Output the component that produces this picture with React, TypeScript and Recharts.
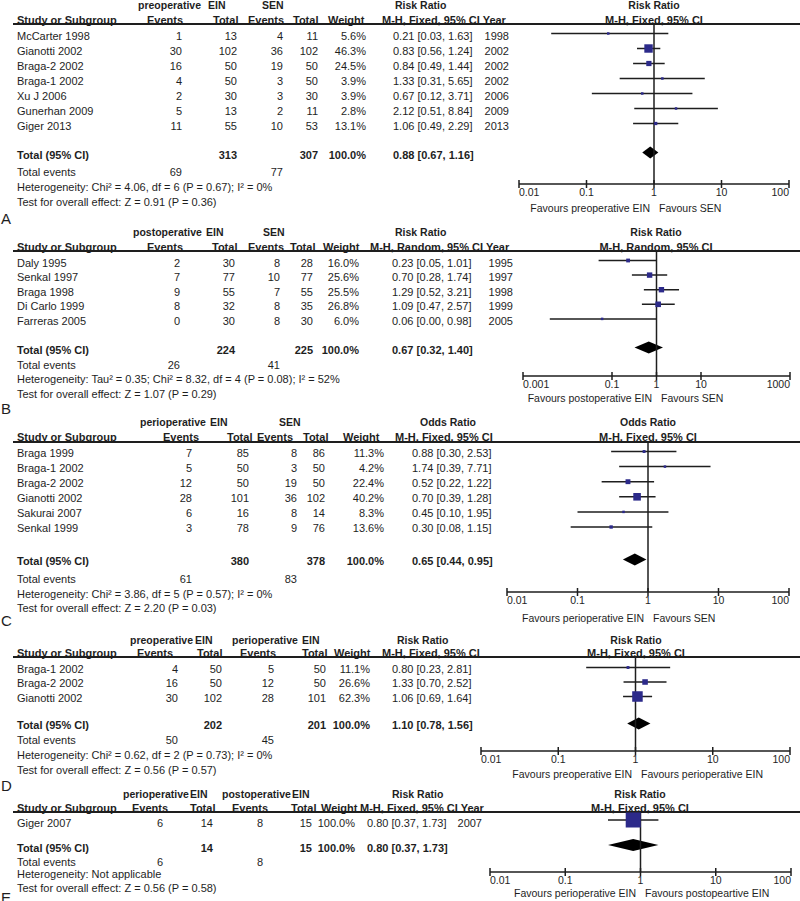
import React from "react";
import { ScatterChart, Scatter, XAxis, YAxis, ReferenceLine, ReferenceArea } from "recharts";

const FONT = '"Liberation Sans", Arial, Helvetica, sans-serif';
const INK = "#1e1e1e";
const BOX = "#2c2a8a";

type Study = { study: string; e1: number; n1: number; e2: number; n2: number; w: number; est: number; lo: number; hi: number; year?: number };
type Pooled = { est: number; lo: number; hi: number };

// A: preoperative EIN vs SEN
const rowsA: Study[] = [
  { study: "McCarter 1998", e1: 1, n1: 13, e2: 4, n2: 11, w: 5.6, est: 0.21, lo: 0.03, hi: 1.63, year: 1998 },
  { study: "Gianotti 2002", e1: 30, n1: 102, e2: 36, n2: 102, w: 46.3, est: 0.83, lo: 0.56, hi: 1.24, year: 2002 },
  { study: "Braga-2 2002", e1: 16, n1: 50, e2: 19, n2: 50, w: 24.5, est: 0.84, lo: 0.49, hi: 1.44, year: 2002 },
  { study: "Braga-1 2002", e1: 4, n1: 50, e2: 3, n2: 50, w: 3.9, est: 1.33, lo: 0.31, hi: 5.65, year: 2002 },
  { study: "Xu J 2006", e1: 2, n1: 30, e2: 3, n2: 30, w: 3.9, est: 0.67, lo: 0.12, hi: 3.71, year: 2006 },
  { study: "Gunerhan 2009", e1: 5, n1: 13, e2: 2, n2: 11, w: 2.8, est: 2.12, lo: 0.51, hi: 8.84, year: 2009 },
  { study: "Giger 2013", e1: 11, n1: 55, e2: 10, n2: 53, w: 13.1, est: 1.06, lo: 0.49, hi: 2.29, year: 2013 },
];
const pooledA: Pooled = { est: 0.88, lo: 0.67, hi: 1.16 };

// B: postoperative EIN vs SEN (random effects)
const rowsB: Study[] = [
  { study: "Daly 1995", e1: 2, n1: 30, e2: 8, n2: 28, w: 16.0, est: 0.23, lo: 0.05, hi: 1.01, year: 1995 },
  { study: "Senkal 1997", e1: 7, n1: 77, e2: 10, n2: 77, w: 25.6, est: 0.7, lo: 0.28, hi: 1.74, year: 1997 },
  { study: "Braga 1998", e1: 9, n1: 55, e2: 7, n2: 55, w: 25.5, est: 1.29, lo: 0.52, hi: 3.21, year: 1998 },
  { study: "Di Carlo 1999", e1: 8, n1: 32, e2: 8, n2: 35, w: 26.8, est: 1.09, lo: 0.47, hi: 2.57, year: 1999 },
  { study: "Farreras 2005", e1: 0, n1: 30, e2: 8, n2: 30, w: 6.0, est: 0.06, lo: 0.004, hi: 0.98, year: 2005 },
];
const pooledB: Pooled = { est: 0.67, lo: 0.32, hi: 1.4 };

// C: perioperative EIN vs SEN (odds ratio)
const rowsC: Study[] = [
  { study: "Braga 1999", e1: 7, n1: 85, e2: 8, n2: 86, w: 11.3, est: 0.88, lo: 0.3, hi: 2.53 },
  { study: "Braga-1 2002", e1: 5, n1: 50, e2: 3, n2: 50, w: 4.2, est: 1.74, lo: 0.39, hi: 7.71 },
  { study: "Braga-2 2002", e1: 12, n1: 50, e2: 19, n2: 50, w: 22.4, est: 0.52, lo: 0.22, hi: 1.22 },
  { study: "Gianotti 2002", e1: 28, n1: 101, e2: 36, n2: 102, w: 40.2, est: 0.7, lo: 0.39, hi: 1.28 },
  { study: "Sakurai 2007", e1: 6, n1: 16, e2: 8, n2: 14, w: 8.3, est: 0.45, lo: 0.1, hi: 1.95 },
  { study: "Senkal 1999", e1: 3, n1: 78, e2: 9, n2: 76, w: 13.6, est: 0.3, lo: 0.08, hi: 1.15 },
];
const pooledC: Pooled = { est: 0.65, lo: 0.44, hi: 0.95 };

// D: preoperative vs perioperative EIN
const rowsD: Study[] = [
  { study: "Braga-1 2002", e1: 4, n1: 50, e2: 5, n2: 50, w: 11.1, est: 0.8, lo: 0.23, hi: 2.81 },
  { study: "Braga-2 2002", e1: 16, n1: 50, e2: 12, n2: 50, w: 26.6, est: 1.33, lo: 0.7, hi: 2.52 },
  { study: "Gianotti 2002", e1: 30, n1: 102, e2: 28, n2: 101, w: 62.3, est: 1.06, lo: 0.69, hi: 1.64 },
];
const pooledD: Pooled = { est: 1.1, lo: 0.78, hi: 1.56 };

// E: perioperative vs postoperative EIN
const rowsE: Study[] = [
  { study: "Giger 2007", e1: 6, n1: 14, e2: 8, n2: 15, w: 100.0, est: 0.8, lo: 0.37, hi: 1.73, year: 2007 },
];
const pooledE: Pooled = { est: 0.8, lo: 0.37, hi: 1.73 };

const ticksDecades = [0.01, 0.1, 1, 10, 100];
const ticksWide = [0.001, 0.1, 1, 10, 1000];

type Layout = {
  h1: number; h2: number; line: number; rowTop: number; rowStep: number; shift: number;
  totalY: number; teY: number; hetY: number; testY: number;
  cols: { ev1: number; n1: number; ev2: number; n2: number; w: number; ci: number; year?: number };
  head1: [string, number][];
  head2: [string, number][];
  axis: { left: number; right: number; y: number; domain: [number, number]; ticks: number[]; one: number };
  title: [string, string];
  favours: [string, string];
  favY: number;
  het: string;
  test: string;
};

const layoutA: Layout = {
  h1: 5, h2: 20, line: 24, rowTop: 36, rowStep: 15, shift: -2.5, totalY: 155, teY: 172, hetY: 187, testY: 202,
  cols: { ev1: 182, n1: 237, ev2: 283, n2: 318, w: 366, ci: 393, year: 509 },
  head1: [["preoperative", 138], ["EIN", 208], ["SEN", 262], ["Risk Ratio", 395]],
  head2: [["Study or Subgroup", 17], ["Events", 147], ["Total", 213], ["Events", 248], ["Total", 293], ["Weight", 328], ["M-H, Fixed, 95% CI Year", 382]],
  axis: { left: 519, right: 789, y: 184, domain: [0.01, 100], ticks: ticksDecades, one: 654 },
  title: ["Risk Ratio", "M-H, Fixed, 95% CI"],
  favours: ["Favours preoperative EIN", "Favours SEN"], favY: 208,
  het: "Heterogeneity: Chi² = 4.06, df = 6 (P = 0.67); I² = 0%",
  test: "Test for overall effect: Z = 0.91 (P = 0.36)",
};

const layoutB: Layout = {
  h1: 232, h2: 247, line: 251, rowTop: 263, rowStep: 14.6, shift: -2.5, totalY: 350, teY: 365, hetY: 379, testY: 394,
  cols: { ev1: 180, n1: 235, ev2: 280, n2: 313, w: 359, ci: 392, year: 513 },
  head1: [["postoperative", 133], ["EIN", 206], ["SEN", 263], ["Risk Ratio", 395]],
  head2: [["Study or Subgroup", 17], ["Events", 147], ["Total", 212], ["Events", 248], ["Total", 290], ["Weight", 323], ["M-H, Random, 95% CI Year", 370]],
  axis: { left: 523, right: 790, y: 376, domain: [0.001, 1000], ticks: ticksWide, one: 656 },
  title: ["Risk Ratio", "M-H, Random, 95% CI"],
  favours: ["Favours postoperative EIN", "Favours SEN"], favY: 398,
  het: "Heterogeneity: Tau² = 0.35; Chi² = 8.32, df = 4 (P = 0.08); I² = 52%",
  test: "Test for overall effect: Z = 1.07 (P = 0.29)",
};

const layoutC: Layout = {
  h1: 422, h2: 437, line: 442, rowTop: 453, rowStep: 15.1, shift: -1.5, totalY: 561, teY: 579, hetY: 594, testY: 608,
  cols: { ev1: 192, n1: 249, ev2: 297, n2: 325, w: 384, ci: 412 },
  head1: [["perioperative", 140], ["EIN", 210], ["SEN", 279], ["Odds Ratio", 420]],
  head2: [["Study or Subgroup", 17], ["Events", 163], ["Total", 227], ["Events", 257], ["Total", 303], ["Weight", 343], ["M-H, Fixed, 95% CI", 395]],
  axis: { left: 507, right: 789, y: 592, domain: [0.01, 100], ticks: ticksDecades, one: 648 },
  title: ["Odds Ratio", "M-H, Fixed, 95% CI"],
  favours: ["Favours perioperative EIN", "Favours SEN"], favY: 618,
  het: "Heterogeneity: Chi² = 3.86, df = 5 (P = 0.57); I² = 0%",
  test: "Test for overall effect: Z = 2.20 (P = 0.03)",
};

const layoutD: Layout = {
  h1: 640, h2: 653, line: 657, rowTop: 669, rowStep: 14.5, shift: -1.5, totalY: 725, teY: 740, hetY: 755, testY: 770,
  cols: { ev1: 178, n1: 222, ev2: 274, n2: 326, w: 370, ci: 392 },
  head1: [["preoperative", 130], ["EIN", 195], ["perioperative", 232], ["EIN", 302], ["Risk Ratio", 397]],
  head2: [["Study or Subgroup", 17], ["Events", 137], ["Total", 197], ["Events", 240], ["Total", 302], ["Weight", 334], ["M-H, Fixed, 95% CI", 382]],
  axis: { left: 481, right: 790, y: 751, domain: [0.01, 100], ticks: ticksDecades, one: 636 },
  title: ["Risk Ratio", "M-H, Fixed, 95% CI"],
  favours: ["Favours preoperative EIN", "Favours perioperative EIN"], favY: 774,
  het: "Heterogeneity: Chi² = 0.62, df = 2 (P = 0.73); I² = 0%",
  test: "Test for overall effect: Z = 0.56 (P = 0.57)",
};

const layoutE: Layout = {
  h1: 794, h2: 808, line: 812, rowTop: 823, rowStep: 15, shift: -3, totalY: 848, teY: 862, hetY: 874, testY: 888,
  cols: { ev1: 163, n1: 213, ev2: 263, n2: 312, w: 355, ci: 367, year: 482 },
  head1: [["perioperative", 123], ["EIN", 190], ["postoperative", 222], ["EIN", 292], ["Risk Ratio", 392]],
  head2: [["Study or Subgroup", 17], ["Events", 132], ["Total", 190], ["Events", 232], ["Total", 291], ["Weight", 321], ["M-H, Fixed, 95% CI Year", 360]],
  axis: { left: 490, right: 791, y: 872, domain: [0.01, 100], ticks: ticksDecades, one: 640 },
  title: ["Risk Ratio", "M-H, Fixed, 95% CI"],
  favours: ["Favours perioperative EIN", "Favours postopeartive EIN"], favY: 893,
  het: "Heterogeneity: Not applicable",
  test: "Test for overall effect: Z = 0.56 (P = 0.58)",
};

const panelLetters: [string, number][] = [["A", 218], ["B", 408], ["C", 620], ["D", 785], ["E", 897]];

const ci = (e: number, l: number, h: number) => `${e.toFixed(2)} [${l.toFixed(2)}, ${h.toFixed(2)}]`;
const sum = (a: number[]) => a.reduce((s, v) => s + v, 0);

function Txt({ x, y, children, align = "left", bold = false, size = 11 }: any) {
  const style: React.CSSProperties = {
    position: "absolute",
    top: y - size / 2,
    lineHeight: `${size}px`,
    fontSize: size,
    fontWeight: bold ? 700 : 400,
    whiteSpace: "nowrap",
    color: INK,
    fontFamily: FONT,
  };
  if (align === "right") style.right = 800 - x;
  else if (align === "center") {
    style.left = x;
    style.transform = "translateX(-50%)";
  } else style.left = x;
  return <div style={style}>{children}</div>;
}

const makeTick = (domain: [number, number]) => (props: any) => {
  const { x, y, payload } = props;
  const v = payload.value;
  const anchor = v === domain[0] ? "start" : v === domain[1] ? "end" : "middle";
  return (
    <g>
      <line x1={x} x2={x} y1={y - 4} y2={y + 4} stroke={INK} strokeWidth={1.5} />
      <text x={x} y={y + 5} dy="0.71em" textAnchor={anchor} fontSize={10.5} fill={INK} fontFamily={FONT}>
        {String(v)}
      </text>
    </g>
  );
};

function Forest({ rows, pooled, lay }: { rows: Study[]; pooled: Pooled; lay: Layout }) {
  const M = 10;
  const ax = lay.axis;
  const markTop = lay.rowTop + lay.shift;
  const yDomain: [number, number] = [(lay.line - markTop) / lay.rowStep, (ax.y - markTop) / lay.rowStep];
  const totalIdx = (lay.totalY - lay.rowTop) / lay.rowStep;
  const half = 6 / lay.rowStep;
  const pts = rows.map((r, i) => ({ x: r.est, y: i, w: r.w }));

  const diamond = (p: any) => {
    const { x, y, width, height } = p;
    const f = (Math.log(pooled.est) - Math.log(pooled.lo)) / (Math.log(pooled.hi) - Math.log(pooled.lo));
    const cx = x + width * f;
    const cy = y + height / 2;
    return <polygon points={`${x},${cy} ${cx},${y} ${x + width},${cy} ${cx},${y + height}`} fill="#000" />;
  };

  const square = (p: any) => {
    const s = Math.max(2.5, 15 * Math.pow(p.payload.w / 100, 0.75));
    return <rect x={p.cx - s / 2} y={p.cy - s / 2} width={s} height={s} fill={BOX} />;
  };

  return (
    <div style={{ position: "absolute", left: ax.left - M, top: lay.line - 2 }}>
      <ScatterChart
        width={ax.right - ax.left + 2 * M}
        height={ax.y - lay.line + 2 + 22}
        margin={{ top: 2, right: M, bottom: 0, left: M }}
      >
        <XAxis
          type="number"
          dataKey="x"
          scale="log"
          domain={ax.domain}
          ticks={ax.ticks}
          interval={0}
          allowDataOverflow
          height={22}
          axisLine={{ stroke: INK, strokeWidth: 1.5 }}
          tickLine={false}
          tickSize={0}
          tickMargin={0}
          tick={makeTick(ax.domain)}
        />
        <YAxis type="number" dataKey="y" domain={yDomain} reversed hide allowDataOverflow />
        <ReferenceLine x={1} stroke={INK} strokeWidth={1.5} ifOverflow="visible" />
        {rows.map((r, i) => (
          <ReferenceLine
            key={r.study}
            segment={[{ x: r.lo, y: i }, { x: r.hi, y: i }]}
            stroke={INK}
            strokeWidth={1.5}
            ifOverflow="visible"
          />
        ))}
        <ReferenceArea
          x1={pooled.lo}
          x2={pooled.hi}
          y1={totalIdx - half}
          y2={totalIdx + half}
          ifOverflow="visible"
          shape={diamond}
        />
        <Scatter data={pts} shape={square} isAnimationActive={false} />
      </ScatterChart>
    </div>
  );
}

function Panel({ rows, pooled, lay }: { rows: Study[]; pooled: Pooled; lay: Layout }) {
  const c = lay.cols;
  return (
    <>
      {lay.head1.map(([t, x], i) => (
        <Txt key={"h1" + i} x={x} y={lay.h1} bold size={10.5}>{t}</Txt>
      ))}
      {lay.head2.map(([t, x], i) => (
        <Txt key={"h2" + i} x={x} y={lay.h2} bold>{t}</Txt>
      ))}
      <div style={{ position: "absolute", left: 13, top: lay.line - 0.75, width: 787, height: 1.5, background: INK }} />
      {rows.map((r, i) => {
        const y = lay.rowTop + i * lay.rowStep;
        return (
          <React.Fragment key={r.study}>
            <Txt x={17} y={y}>{r.study}</Txt>
            <Txt x={c.ev1} y={y} align="right">{r.e1}</Txt>
            <Txt x={c.n1} y={y} align="right">{r.n1}</Txt>
            <Txt x={c.ev2} y={y} align="right">{r.e2}</Txt>
            <Txt x={c.n2} y={y} align="right">{r.n2}</Txt>
            <Txt x={c.w} y={y} align="right">{r.w.toFixed(1) + "%"}</Txt>
            <Txt x={c.ci} y={y}>{ci(r.est, r.lo, r.hi)}</Txt>
            {c.year !== undefined && r.year !== undefined && (
              <Txt x={c.year} y={y} align="right">{r.year}</Txt>
            )}
          </React.Fragment>
        );
      })}
      <Txt x={17} y={lay.totalY} bold>Total (95% CI)</Txt>
      <Txt x={c.n1} y={lay.totalY} align="right" bold>{sum(rows.map((r) => r.n1))}</Txt>
      <Txt x={c.n2} y={lay.totalY} align="right" bold>{sum(rows.map((r) => r.n2))}</Txt>
      <Txt x={c.w} y={lay.totalY} align="right" bold>100.0%</Txt>
      <Txt x={c.ci} y={lay.totalY} bold>{ci(pooled.est, pooled.lo, pooled.hi)}</Txt>
      <Txt x={17} y={lay.teY}>Total events</Txt>
      <Txt x={c.ev1} y={lay.teY} align="right">{sum(rows.map((r) => r.e1))}</Txt>
      <Txt x={c.ev2} y={lay.teY} align="right">{sum(rows.map((r) => r.e2))}</Txt>
      <Txt x={17} y={lay.hetY}>{lay.het}</Txt>
      <Txt x={17} y={lay.testY}>{lay.test}</Txt>

      <Txt x={lay.axis.one} y={lay.h1} align="center" bold size={10.5}>{lay.title[0]}</Txt>
      <Txt x={lay.axis.one} y={lay.h2} align="center" bold>{lay.title[1]}</Txt>
      <Forest rows={rows} pooled={pooled} lay={lay} />
      <Txt x={lay.axis.one - 4} y={lay.favY} align="right" size={10.5}>{lay.favours[0]}</Txt>
      <Txt x={lay.axis.one + 5} y={lay.favY} size={10.5}>{lay.favours[1]}</Txt>
    </>
  );
}

export default function App() {
  return (
    <div
      style={{
        position: "absolute",
        left: 0,
        top: 0,
        width: 800,
        height: 901,
        overflow: "hidden",
        background: "#fff",
        fontFamily: FONT,
      }}
    >
      <Panel rows={rowsA} pooled={pooledA} lay={layoutA} />
      <Panel rows={rowsB} pooled={pooledB} lay={layoutB} />
      <Panel rows={rowsC} pooled={pooledC} lay={layoutC} />
      <Panel rows={rowsD} pooled={pooledD} lay={layoutD} />
      <Panel rows={rowsE} pooled={pooledE} lay={layoutE} />
      {panelLetters.map(([l, y]) => (
        <Txt key={l} x={1} y={y} size={15}>{l}</Txt>
      ))}
    </div>
  );
}
